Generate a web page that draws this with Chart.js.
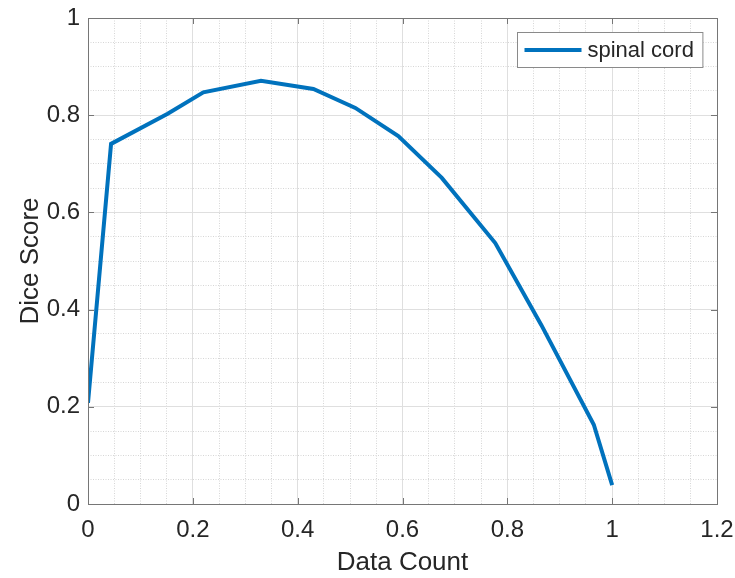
<!DOCTYPE html>
<html>
<head>
<meta charset="utf-8">
<script src="https://cdn.jsdelivr.net/npm/chart.js@4"></script>
<style>
  html, body { margin: 0; padding: 0; background: #fff; }
  #chart { display: block; }
</style>
</head>
<body>
<canvas id="chart" width="735" height="578"></canvas>
<script>
// values
const dataCount = [0, 0.044, 0.152, 0.220, 0.330, 0.430, 0.510, 0.592, 0.675, 0.777, 0.865, 0.965, 1.0];
const diceScore = [0.208, 0.741, 0.803, 0.847, 0.871, 0.854, 0.815, 0.757, 0.671, 0.537, 0.368, 0.163, 0.039];
const seriesName = 'spinal cord';
const xTicks = [0, 0.2, 0.4, 0.6, 0.8, 1, 1.2];
const yTicks = [0, 0.2, 0.4, 0.6, 0.8, 1];

const lineColor = '#0072BD';
const boxColor = '#767676';
const textColor = '#262626';
const fontFamily = '"Liberation Sans", Arial, Helvetica, sans-serif';

const isMajor = v => Math.abs(v / 0.2 - Math.round(v / 0.2)) < 1e-6;
const fmt = v => String(Math.round(v * 10) / 10);

const gridOpts = {
    drawTicks: false,
    color: ctx => isMajor(ctx.tick.value) ? '#dfdfdf' : '#d6d6d6',
    lineWidth: 1
};
const borderOpts = {
    display: false,
    dash: ctx => (ctx.tick && isMajor(ctx.tick.value)) ? [] : [1, 1.5]
};

// axes box, inward ticks and the legend box, like a matlab figure
const matlabAxes = {
    id: 'matlabAxes',
    afterDraw(chart) {
        const {ctx, chartArea: a, scales} = chart;
        const tl = 6;
        ctx.save();
        ctx.strokeStyle = boxColor;
        ctx.lineWidth = 1;
        ctx.strokeRect(a.left + 0.5, a.top + 0.5, a.right - a.left, a.bottom - a.top);
        ctx.beginPath();
        xTicks.forEach(v => {
            const px = Math.round(scales.x.getPixelForValue(v)) + 0.5;
            ctx.moveTo(px, a.bottom); ctx.lineTo(px, a.bottom - tl);
            ctx.moveTo(px, a.top); ctx.lineTo(px, a.top + tl);
        });
        yTicks.forEach(v => {
            const py = Math.round(scales.y.getPixelForValue(v)) + 0.5;
            ctx.moveTo(a.left, py); ctx.lineTo(a.left + tl, py);
            ctx.moveTo(a.right, py); ctx.lineTo(a.right - tl, py);
        });
        ctx.stroke();

        // legend
        ctx.font = '22px ' + fontFamily;
        const tw = ctx.measureText(seriesName).width;
        const w = 7 + 57 + 6 + tw + 9;
        const h = 35;
        const bx = Math.round(a.right - 15 - w) + 0.5;
        const by = Math.round(a.top + 14) + 0.5;
        ctx.fillStyle = '#fff';
        ctx.fillRect(bx, by, w, h);
        ctx.strokeStyle = '#8a8a8a';
        ctx.strokeRect(bx, by, w, h);
        ctx.strokeStyle = lineColor;
        ctx.lineWidth = 4;
        ctx.beginPath();
        ctx.moveTo(bx + 7, by + h / 2);
        ctx.lineTo(bx + 64, by + h / 2);
        ctx.stroke();
        ctx.fillStyle = textColor;
        ctx.textBaseline = 'middle';
        ctx.fillText(seriesName, bx + 70, by + h / 2 + 1);
        ctx.restore();
    }
};

new Chart(document.getElementById('chart').getContext('2d'), {
    type: 'line',
    data: {
        datasets: [{
            label: seriesName,
            data: dataCount.map((x, i) => ({x: x, y: diceScore[i]})),
            borderColor: lineColor,
            backgroundColor: lineColor,
            borderWidth: 4,
            pointRadius: 0,
            tension: 0,
            fill: false
        }]
    },
    options: {
        responsive: false,
        animation: false,
        devicePixelRatio: 1,
        layout: {padding: {top: 18, right: 18, left: 0, bottom: 0}},
        plugins: {
            legend: {display: false},
            tooltip: {enabled: false}
        },
        scales: {
            x: {
                type: 'linear',
                min: 0,
                max: 1.2,
                afterFit: s => { s.height = 74; s.paddingLeft = 0; s.paddingRight = 0; },
                ticks: {
                    stepSize: 0.05,
                    autoSkip: false,
                    maxRotation: 0,
                    padding: 12,
                    color: textColor,
                    font: {family: fontFamily, size: 24},
                    callback: v => isMajor(v) ? fmt(v) : ''
                },
                grid: gridOpts,
                border: borderOpts,
                title: {
                    display: true,
                    text: 'Data Count',
                    color: textColor,
                    font: {family: fontFamily, size: 26},
                    padding: {top: 0, bottom: 0}
                }
            },
            y: {
                type: 'linear',
                min: 0,
                max: 1,
                afterFit: s => { s.width = 88; s.paddingTop = 0; s.paddingBottom = 0; },
                ticks: {
                    stepSize: 0.05,
                    autoSkip: false,
                    padding: 8,
                    color: textColor,
                    font: {family: fontFamily, size: 24},
                    callback: v => isMajor(v) ? fmt(v) : ''
                },
                grid: gridOpts,
                border: borderOpts,
                title: {
                    display: true,
                    text: 'Dice Score',
                    color: textColor,
                    font: {family: fontFamily, size: 26},
                    padding: {top: 15, bottom: 0}
                }
            }
        }
    },
    plugins: [matlabAxes]
});
</script>
</body>
</html>
